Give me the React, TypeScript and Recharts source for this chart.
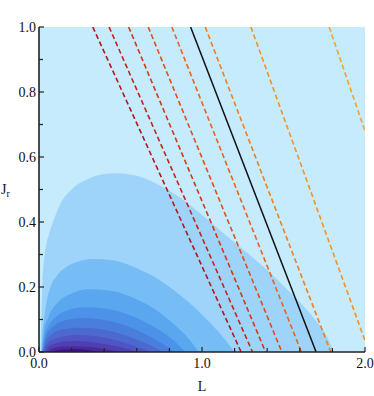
import { ComposedChart, Area, Line, XAxis, YAxis, CartesianGrid } from 'recharts';

// tick positions
const lTicks = [0, 0.1, 0.2, 0.3, 0.4, 0.5, 0.6, 0.7, 0.8, 0.9, 1.0, 1.1, 1.2, 1.3, 1.4, 1.5, 1.6, 1.7, 1.8, 1.9, 2.0];
const jTicks = [0, 0.1, 0.2, 0.3, 0.4, 0.5, 0.6, 0.7, 0.8, 0.9, 1.0];
const lLabels = [0, 0.5, 1.0, 1.5, 2.0];
const jLabels = [0, 0.2, 0.4, 0.6, 0.8, 1.0];

// filled contours of the distribution, outermost first: [L, Jr] along the upper edge
const contour1 = [[0.01, 0], [0.014, 0.1], [0.02, 0.2], [0.035, 0.3], [0.06, 0.36], [0.086, 0.4], [0.13, 0.455], [0.2, 0.5], [0.3, 0.532], [0.4, 0.548], [0.48, 0.55], [0.58, 0.545], [0.68, 0.528], [0.8, 0.496], [0.9, 0.462], [0.99, 0.426], [1.15, 0.358], [1.29, 0.3], [1.4, 0.252], [1.48, 0.214], [1.58, 0.164], [1.68, 0.108], [1.75, 0.062], [1.81, 0]];
const contour2 = [[0.015, 0], [0.02, 0.05], [0.03, 0.1], [0.045, 0.15], [0.07, 0.2], [0.11, 0.235], [0.17, 0.262], [0.25, 0.28], [0.34, 0.286], [0.45, 0.282], [0.56, 0.266], [0.65, 0.246], [0.73, 0.225], [0.8, 0.2], [0.91, 0.157], [1.0, 0.115], [1.1, 0.063], [1.2, 0]];
const contour3 = [[0.017, 0], [0.03, 0.06], [0.06, 0.11], [0.12, 0.155], [0.2, 0.18], [0.3, 0.193], [0.42, 0.19], [0.54, 0.175], [0.65, 0.15], [0.75, 0.118], [0.84, 0.08], [0.92, 0.04], [0.98, 0]];
const contour4 = [[0.02, 0], [0.035, 0.05], [0.065, 0.085], [0.12, 0.115], [0.19, 0.131], [0.28, 0.138], [0.4, 0.134], [0.52, 0.12], [0.63, 0.098], [0.73, 0.07], [0.82, 0.038], [0.9, 0]];
const contour5 = [[0.022, 0], [0.04, 0.045], [0.07, 0.07], [0.12, 0.09], [0.19, 0.101], [0.26, 0.105], [0.37, 0.101], [0.48, 0.09], [0.59, 0.07], [0.68, 0.048], [0.76, 0.025], [0.83, 0]];
const contour6 = [[0.026, 0], [0.045, 0.035], [0.08, 0.055], [0.14, 0.069], [0.25, 0.075], [0.35, 0.072], [0.45, 0.063], [0.55, 0.048], [0.64, 0.03], [0.71, 0.014], [0.76, 0]];
const contour7 = [[0.03, 0], [0.05, 0.024], [0.09, 0.039], [0.15, 0.048], [0.24, 0.052], [0.34, 0.049], [0.44, 0.04], [0.53, 0.028], [0.61, 0.014], [0.69, 0]];
const contour8 = [[0.04, 0], [0.06, 0.016], [0.1, 0.026], [0.16, 0.032], [0.23, 0.034], [0.32, 0.031], [0.42, 0.023], [0.51, 0.013], [0.61, 0]];
const contour9 = [[0.05, 0], [0.08, 0.01], [0.14, 0.016], [0.22, 0.018], [0.31, 0.016], [0.4, 0.009], [0.5, 0]];
const contour10 = [[0.07, 0], [0.1, 0.005], [0.16, 0.008], [0.22, 0.009], [0.29, 0.007], [0.36, 0]];

const contours = [contour1, contour2, contour3, contour4, contour5, contour6, contour7, contour8, contour9, contour10];
const contourColors = ['#9fd4fa', '#76bdf6', '#5aa7f0', '#4b92e8', '#4a7edd', '#4c69d0', '#4f55c2', '#4f3fb0', '#4a2a9b', '#3d1282'];

// dashed iso-lines: start and end [L, Jr]
const dashedLines = [
  [[0.33, 1], [1.24, 0]],
  [[0.43, 1], [1.31, 0]],
  [[0.55, 1], [1.39, 0]],
  [[0.67, 1], [1.49, 0]],
  [[0.815, 1], [1.61, 0]],
  [[1.02, 1], [1.79, 0]],
  [[1.3, 1], [2.0, 0.035]],
  [[1.78, 1], [2.0, 0.68]],
];
const dashedColors = ['#b3161b', '#c42418', '#d53518', '#e24c19', '#ec621a', '#f47e1c', '#f8911f', '#fba125'];
const solidLine = [[0.93, 1], [1.7, 0]];

const toPoints = (a: number[][]) => a.map(([L, J]) => ({ L, J }));

const FONT = 'Liberation Serif';
const AXIS = '#222';
const near = (arr: number[], v: number) => arr.some((m) => Math.abs(m - v) < 1e-6);

const BottomTick = ({ x, y, payload }: any) => {
  const v = payload.value;
  const major = near(lLabels, v);
  return (
    <g>
      <line x1={x} x2={x} y1={y} y2={y - (major ? 5 : 4)} stroke={AXIS} strokeWidth={1.2} />
      {major && (
        <text x={x} y={y + 16} textAnchor="middle" fontFamily={FONT} fontSize={14} fill="#111">
          {v.toFixed(1)}
        </text>
      )}
    </g>
  );
};

const LeftTick = ({ x, y, payload }: any) => {
  const v = payload.value;
  const major = near(jLabels, v);
  return (
    <g>
      <line x1={x} x2={x + (major ? 5 : 4)} y1={y} y2={y} stroke={AXIS} strokeWidth={1.2} />
      {major && (
        <text x={x - 3} y={y + 4.5} textAnchor="end" fontFamily={FONT} fontSize={14} fill="#111">
          {v.toFixed(1)}
        </text>
      )}
    </g>
  );
};

const TopTick = ({ x, y, payload }: any) => (
  <line x1={x} x2={x} y1={y} y2={y + (near(lLabels, payload.value) ? 5 : 4)} stroke={AXIS} strokeWidth={1.2} />
);

const RightTick = ({ x, y, payload }: any) => (
  <line x1={x} x2={x - (near(jLabels, payload.value) ? 5 : 4)} y1={y} y2={y} stroke={AXIS} strokeWidth={1.2} />
);

const JrLabel = () => (
  <text x={1} y={194} fontFamily={FONT} fontSize={14} fill="#111">
    J<tspan fontSize={10} dy={3}>r</tspan>
  </text>
);

export default function App() {
  return (
    <div>
      <style>{'body{margin:0;}'}</style>
      <ComposedChart width={374} height={396} margin={{ top: 27, right: 9, left: 0, bottom: 0 }}>
        <CartesianGrid fill="#c6ebfd" horizontal={false} vertical={false} />
        {contours.map((c, i) => (
          <Area
            key={`c${i}`}
            data={toPoints(c)}
            dataKey="J"
            type="monotone"
            stroke="none"
            fill={contourColors[i]}
            fillOpacity={1}
            isAnimationActive={false}
            dot={false}
            activeDot={false}
          />
        ))}
        {dashedLines.map((d, i) => (
          <Line
            key={`d${i}`}
            data={toPoints(d)}
            dataKey="J"
            type="linear"
            stroke={dashedColors[i]}
            strokeWidth={1.6}
            strokeDasharray="5 3"
            dot={false}
            activeDot={false}
            isAnimationActive={false}
          />
        ))}
        <Line
          data={toPoints(solidLine)}
          dataKey="J"
          type="linear"
          stroke="#111"
          strokeWidth={1.5}
          dot={false}
          activeDot={false}
          isAnimationActive={false}
        />
        <XAxis
          dataKey="L"
          type="number"
          domain={[0, 2]}
          ticks={lTicks}
          allowDataOverflow
          height={44}
          tickSize={0}
          tickMargin={0}
          tickLine={false}
          tick={<BottomTick />}
          axisLine={{ stroke: AXIS, strokeWidth: 1.6 }}
          label={{ value: 'L', position: 'insideBottom', offset: 5, fontFamily: FONT, fontSize: 14, fill: '#111' }}
        />
        <XAxis
          xAxisId="top"
          orientation="top"
          type="number"
          domain={[0, 2]}
          ticks={lTicks}
          allowDataOverflow
          height={0}
          tickSize={0}
          tickMargin={0}
          tickLine={false}
          tick={<TopTick />}
          axisLine={{ stroke: AXIS, strokeWidth: 1.6 }}
        />
        <YAxis
          type="number"
          domain={[0, 1]}
          ticks={jTicks}
          allowDataOverflow
          width={39}
          tickSize={0}
          tickMargin={0}
          tickLine={false}
          tick={<LeftTick />}
          axisLine={{ stroke: AXIS, strokeWidth: 1.6 }}
          label={<JrLabel />}
        />
        <YAxis
          yAxisId="right"
          orientation="right"
          type="number"
          domain={[0, 1]}
          ticks={jTicks}
          allowDataOverflow
          width={0}
          tickSize={0}
          tickMargin={0}
          tickLine={false}
          tick={<RightTick />}
          axisLine={{ stroke: AXIS, strokeWidth: 1.6 }}
        />
      </ComposedChart>
    </div>
  );
}
